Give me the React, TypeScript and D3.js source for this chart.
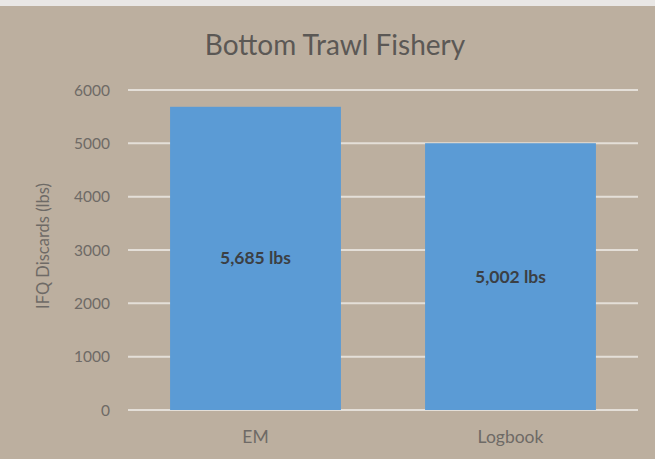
import React from "react";
import * as d3 from "d3";

const categories = ["EM", "Logbook"];
const values = [5685, 5002];
const valueLabels = ["5,685 lbs", "5,002 lbs"];
const yTicks = [0, 1000, 2000, 3000, 4000, 5000, 6000];
const title = "Bottom Trawl Fishery";
const yTitle = "IFQ Discards (lbs)";

const W = 655;
const H = 459;
const FONT = "Lato, 'Open Sans', sans-serif";

export default function App() {
  const x = d3.scaleBand<string>().domain(categories).range([128, 638]).paddingInner(0.33).paddingOuter(0.165);
  const y = d3.scaleLinear().domain([0, 6000]).range([410, 90]);
  return (
    <svg width={W} height={H} style={{ position: "absolute", left: 0, top: 0, display: "block" }}>
      <rect x={0} y={0} width={W} height={H} fill="#bcaf9f" />
      <rect x={0} y={0} width={W} height={6} fill="#e9e7e5" />
      <text x={335} y={55} textAnchor="middle" fontFamily={FONT} fontSize={28} fill="#5b5855">{title}</text>
      {yTicks.map((t) => (
        <g key={t}>
          <line x1={128} x2={638} y1={y(t)} y2={y(t)} stroke="#e4dfd8" strokeWidth={2} />
          <text x={110} y={y(t) + 5.5} textAnchor="end" fontFamily={FONT} fontSize={15.5} fill="#6e6a66">{t}</text>
        </g>
      ))}
      {categories.map((c, i) => (
        <g key={c}>
          <rect x={x(c)} y={y(values[i])} width={x.bandwidth()} height={y(0) - y(values[i])} fill="#5b9bd5" />
          <text x={(x(c) as number) + x.bandwidth() / 2} y={(y(values[i]) + y(0)) / 2 + 6} textAnchor="middle" fontFamily={FONT} fontWeight="bold" fontSize={17.5} fill="#3b3f44">{valueLabels[i]}</text>
          <text x={(x(c) as number) + x.bandwidth() / 2} y={443} textAnchor="middle" fontFamily={FONT} fontSize={17.5} fill="#6e6a66">{c}</text>
        </g>
      ))}
      <text transform={`translate(49,246) rotate(-90)`} textAnchor="middle" fontFamily={FONT} fontSize={16.5} fill="#6e6a66">{yTitle}</text>
    </svg>
  );
}
